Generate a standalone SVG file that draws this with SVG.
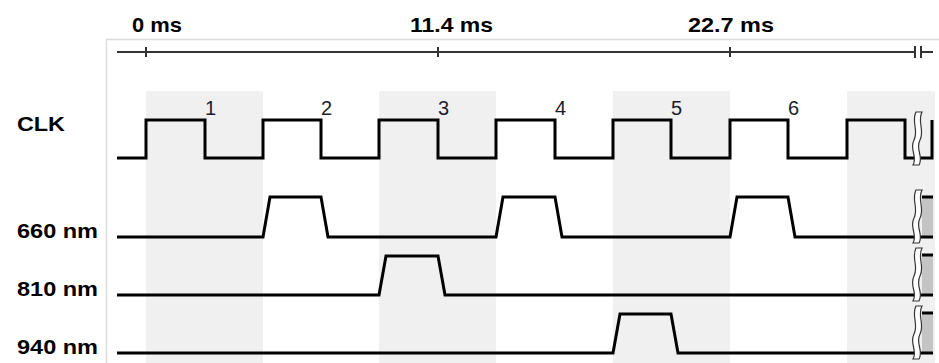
<svg xmlns="http://www.w3.org/2000/svg" width="939" height="363" viewBox="0 0 939 363">
  <style>
    .lbl { font-family: "Liberation Sans", Arial, sans-serif; font-weight: bold; font-size: 21px; fill: #000; }
    .num { font-family: "Liberation Sans", Arial, sans-serif; font-size: 20px; fill: #1c1c2c; }
    .band { fill: #f0f0f0; }
    .frame { stroke: #dcdcdc; stroke-width: 1.5; fill: none; }
    .axis { stroke: #333; stroke-width: 2; fill: none; }
    .wave { stroke: #000; stroke-width: 3; fill: none; stroke-linejoin: miter; }
    .cont { fill: #c4c4c4; stroke: none; }
    .brk { fill: #fff; stroke: #333; stroke-width: 1.2; }
  </style>

  <rect width="939" height="363" fill="#fff"/>

  <!-- alternating clock-period bands -->
  <g id="bands">
    <rect class="band" x="146" y="91" width="117" height="272"/>
    <rect class="band" x="379" y="91" width="117" height="272"/>
    <rect class="band" x="613" y="91" width="117" height="272"/>
    <rect class="band" x="847" y="91" width="88" height="272"/>
  </g>

  <!-- plot frame -->
  <path class="frame" d="M106.5 363 V39.5 H939"/>

  <!-- time axis -->
  <g id="time-axis">
    <path class="axis" d="M117 52 H915 M921 52 H933"/>
    <path class="axis" d="M146 47 V57 M438 47 V57 M730 47 V57 M915 46 V58 M921 46 V58"/>
    <text class="lbl" x="132" y="32" textLength="50" lengthAdjust="spacingAndGlyphs">0 ms</text>
    <text class="lbl" x="410" y="32" textLength="83" lengthAdjust="spacingAndGlyphs">11.4 ms</text>
    <text class="lbl" x="688" y="32" textLength="86" lengthAdjust="spacingAndGlyphs">22.7 ms</text>
  </g>

  <!-- signal names -->
  <g id="names">
    <text class="lbl" x="17" y="131" textLength="48" lengthAdjust="spacingAndGlyphs">CLK</text>
    <text class="lbl" x="17" y="238" textLength="81" lengthAdjust="spacingAndGlyphs">660 nm</text>
    <text class="lbl" x="17" y="296" textLength="81" lengthAdjust="spacingAndGlyphs">810 nm</text>
    <text class="lbl" x="17" y="354" textLength="81" lengthAdjust="spacingAndGlyphs">940 nm</text>
  </g>

  <!-- clock cycle numbers -->
  <g id="cycle-numbers">
    <text class="num" x="205" y="115">1</text>
    <text class="num" x="321" y="115">2</text>
    <text class="num" x="438" y="115">3</text>
    <text class="num" x="555" y="115">4</text>
    <text class="num" x="671" y="115">5</text>
    <text class="num" x="788" y="115">6</text>
  </g>

  <g id="signals">
    <g id="clk">
      <path class="wave" d="M117 158 H146 V120 H205 V158 H263 V120 H321 V158 H379 V120 H438 V158 H496 V120 H555 V158 H613 V120 H671 V158 H730 V120 H788 V158 H847 V120 H905 V158 H932 V120"/>
      <path class="brk" d="M916 112 C911 122 919 130 914 140 C909 150 918 156 913 165 L919 165 C924 156 915 150 920 140 C925 130 917 122 922 112 Z"/>
    </g>
    <g id="sig-660">
      <rect class="cont" x="922" y="198" width="11" height="39"/>
      <path class="wave" d="M117 237 H263 L270 197 H321 L328 237 H496 L503 197 H555 L562 237 H730 L737 197 H788 L795 237 H933 M922 197 H933"/>
      <path class="brk" d="M916 190 C911 200 919 208 914 218 C909 228 918 234 913 243 L919 243 C924 234 915 228 920 218 C925 208 917 200 922 190 Z"/>
    </g>
    <g id="sig-810">
      <rect class="cont" x="922" y="256" width="11" height="39"/>
      <path class="wave" d="M117 295 H379 L386 256 H438 L445 295 H933 M922 255 H933"/>
      <path class="brk" d="M916 248 C911 258 919 266 914 276 C909 286 918 292 913 301 L919 301 C924 292 915 286 920 276 C925 266 917 258 922 248 Z"/>
    </g>
    <g id="sig-940">
      <rect class="cont" x="922" y="313" width="11" height="40"/>
      <path class="wave" d="M117 353 H613 L620 314 H671 L678 353 H933 M922 313 H933"/>
      <path class="brk" d="M916 306 C911 316 919 324 914 334 C909 344 918 350 913 359 L919 359 C924 350 915 344 920 334 C925 324 917 316 922 306 Z"/>
    </g>
  </g>
</svg>
